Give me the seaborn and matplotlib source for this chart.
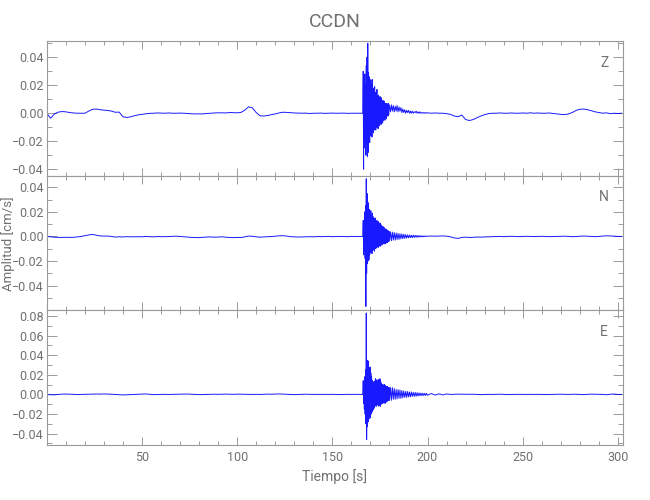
import numpy as np
import pandas as pd
import matplotlib
matplotlib.use('Agg')
import matplotlib.pyplot as plt
from matplotlib.ticker import MultipleLocator
import seaborn as sns

# valores, en unidades de 0.001 cm/s
# tramo previo: 0-164 s cada 2 s
z_previo = [0, -3.6, -0.5, 0.8, 1.2, 1.0, 0.5, 0.2, 0, 0, 0, 1.5, 2.8, 3.0, 2.5, 2.2, 2.0, 1.5, 0.7, 0.8,
            -2.5, -3.0, -2.6, -1.8, -1.2, -0.8, -0.4, -0.1, 0, 0.2, 0.1, 0, 0.2, 0, 0, 0.1, 0, -0.2, -0.4, -0.5,
            -0.4, -0.5, -0.2, 0, 0.2, 0.3, 0.3, 0.2, 0.5, 0.4, 0.3, 0.6, 2.2, 4.6, 3.8, 0.5, -1.8, -2.0, -1.6, -1.0,
            -0.5, 0.2, 0.7, 0.6, 0.4, 0.2, 0.1, 0, 0.1, -0.2, 0, 0, 0.1, -0.1, 0, 0.1, 0, 0, 0.1, -0.1,
            0, 0, 0]
n_previo = [0, -0.3, -0.6, -0.8, -0.8, -0.7, -0.8, -0.7, -0.4, 0, 0.6, 1.2, 1.6, 1.0, 0.4, 0.3, 0.3, 0, -0.5, -0.3,
            -0.4, -0.2, -0.3, -0.3, -0.2, -0.3, 0, -0.2, -0.3, -0.1, -0.2, -0.2, -0.1, 0.1, 0.2, 0, -0.3, -0.5, -0.8, -0.9,
            -1.0, -0.7, -0.5, -0.4, -0.6, -0.5, -0.3, -0.6, -0.9, -1.0, -0.8, -0.9, -0.3, 0.3, 0.1, -0.3, -0.6, -0.4, -0.2, -0.1,
            0.2, 0.5, 0.6, 0.3, -0.2, -0.3, -0.5, -0.4, -0.3, -0.2, -0.3, -0.1, -0.2, -0.1, 0, -0.2, -0.1, 0, -0.1, -0.2,
            0, -0.1, 0]
e_previo = [0, -0.3, -0.4, 0, 0.3, 0.4, 0.3, 0.1, -0.1, 0, 0.2, 0.1, 0.3, 0.4, 0.3, 0.5, 0.4, 0.2, 0, -0.2,
            -0.5, -0.4, -0.2, 0, 0.2, 0.3, 0.5, 0.2, -0.2, -0.1, 0, 0.1, 0, 0.1, 0.3, 0.4, 0.3, 0.4, 0.2, 0,
            -0.2, -0.1, 0, 0.1, 0.2, 0.1, 0.2, 0.3, 0.2, 0.1, 0.3, 0.2, 0, -0.1, 0, 0.1, 0, 0.2, 0.3, 0.2,
            0.4, 0.5, 0.3, 0.1, 0, -0.2, 0, 0.1, 0.2, 0.1, 0, 0.1, 0, 0.1, 0, 0.1, 0, -0.1, 0, 0.1,
            0, 0.1, 0]

# sismo: 166.0-179.8 s cada 0.2 s
z_sismo = [0, 30, -40, 22, -20, 28, -25, 20, -30, 34, -22, 40, -31, 50, -28, 29, -19, 26, -21, 22,
           -16, 24, -15, 20, -17, 24, -13, 18, -14, 16, -12, 19, -11, 15, -12, 14, -10, 17, -9, 12,
           -11, 13, -8, 11, -9, 12, -7, 10, -8, 11, -6, 9, -7, 8, -5, 9, -4, 8, -5, 7,
           -3, 7, -4, 7, -2, 6, -2, 7, -1, 6]
n_sismo = [0, 13, -15, 10, -12, 20, -18, 25, -57, 47, -30, 35, -22, 28, -20, 27, -19, 22, -15, 20,
           -13, 21, -12, 17, -14, 19, -11, 16, -10, 15, -12, 14, -9, 15, -10, 12, -9, 13, -8, 11,
           -9, 12, -8, 10, -7, 11, -8, 10, -7, 9, -7, 8, -6, 8, -6, 7, -6, 7, -5, 6,
           -6, 6, -5, 5, -5, 5, -4, 4.5, -4, 4]
e_sismo = [0, 14, -9, 12, -15, 18, -20, 25, -30, 83, -46, 35, -33, 30, -28, 34, -25, 26, -22, 28,
           -24, 22, -20, 18, -18, 14, -16, 13, -15, 12, -14, 13, -12, 16, -11, 14, -12, 15, -10, 13,
           -11, 15, -12, 14, -10, 16, -12, 13, -10, 11, -9, 10, -9, 10, -8, 9, -9, 10, -8, 9,
           -9, 8, -7, 8, -7, 8, -6, 7, -6, 7]

# coda: 180-199.5 s cada 0.5 s
z_coda = [5.5, 1.0, 6.0, 1.5, 5.5, 1.0, 5.0, 1.5, 5.5, 1.0, 4.5, 1.5, 4.0, 0.5, 3.0, 0.5, 2.5, 0, 2.0, 0.5,
          2.0, 0, 1.5, 0, 1.5, 0, 1.0, 0.5, 1.5, 0, 1.0, 0, 1.0, 0, 0.5, 0, 0.5, 0, 0.5, 0]
n_coda = [-3.5, 3.8, -3.5, 3.5, -3.0, 3.2, -3.0, 2.8, -2.5, 2.5, -2.4, 2.2, -2.0, 2.0, -1.8, 1.8, -1.6, 1.5, -1.4, 1.3,
          -1.2, 1.2, -1.0, 1.0, -1.0, 1.0, -0.8, 0.9, -0.7, 0.8, -0.6, 0.7, -0.5, 0.6, -0.4, 0.5, -0.3, 0.4, -0.2, 0.3]
e_coda = [-6, 7, -6, 7, -5, 6, -5, 5, -4.5, 5, -4, 4.5, -4, 4, -3.5, 3.5, -3, 3, -3, 3,
          -2.5, 2.5, -2.5, 2.5, -2, 2, -2, 2, -1.8, 1.8, -1.6, 1.6, -1.4, 1.4, -1.2, 1.2, -1.1, 1.1, -1.0, 1.0]

# tramo final: 200-302 s cada 2 s
z_final = [0.3, 0, 0.2, 0, 0, -0.3, -0.8, -2.0, -2.5, -1.3, -4.5, -5.2, -4.5, -3.2, -2.0, -1.0, -0.3, 0, 0, 0.2,
           0, 0, 0.2, 0, 0, 0.2, 0, 0.3, 0, 0.2, 0, 0, 0.2, -0.2, -0.5, -0.8, -1.0, -0.5, 0.5, 2.0,
           2.8, 3.0, 2.5, 1.8, 1.0, 0.5, 0, 0.3, -0.3, 0, -0.2, 0]
n_final = [0.2, 0.3, 0.2, 0.3, 0.4, 0.2, -0.3, -1.2, -1.6, -0.8, -0.6, -0.8, -0.7, -0.5, -0.6, -0.4, -0.3, -0.2, -0.1, 0,
           -0.2, 0, 0.1, 0, -0.2, 0, 0.1, 0, -0.1, 0, 0.1, 0, -0.2, -0.1, 0, 0.1, 0.2, 0, -0.2, -0.1,
           0.2, 0.3, 0.2, 0, -0.2, 0, 0.3, 0.5, 0.4, 0.2, 0, 0]
e_final = [-0.8, 0.9, -0.7, 0.6, -0.5, 0.5, 0, 0.2, 0.3, 0.2, 0, 0.1, 0.2, 0, -0.2, 0, 0.1, 0, 0.1, 0.2,
           0, -0.1, 0, 0.2, 0.1, 0, 0, 0.1, 0, 0.1, 0, -0.1, 0, 0.2, 0.3, 0.2, 0.1, 0, 0.1, 0.2,
           0, -0.2, 0, 0.3, 0.2, 0.1, 0, -0.3, 0.2, 0.4, 0, 0]

componentes = ['Z', 'N', 'E']
estacion = 'CCDN'

# tiempos de muestreo
tiempo = np.concatenate([
    2.0 * np.arange(83),
    166.0 + 0.2 * np.arange(70),
    180.0 + 0.5 * np.arange(40),
    200.0 + 2.0 * np.arange(52),
])

trazas = {
    'Z': z_previo + z_sismo + z_coda + z_final,
    'N': n_previo + n_sismo + n_coda + n_final,
    'E': e_previo + e_sismo + e_coda + e_final,
}
for c in componentes:
    assert len(trazas[c]) == len(tiempo), (c, len(trazas[c]), len(tiempo))

df = pd.concat([pd.DataFrame({'tiempo': tiempo, 'amplitud': np.array(trazas[c]) * 1e-3, 'comp': c})
                for c in componentes])

sns.set_style('white')
plt.rcParams['font.family'] = ['DejaVu Sans Condensed', 'Liberation Sans Narrow', 'Roboto', 'DejaVu Sans']
gris = '#707070'
plt.rcParams.update({
    'axes.edgecolor': '#9a9a9a', 'axes.linewidth': 0.8,
    'xtick.color': '#9a9a9a', 'ytick.color': '#9a9a9a',
    'xtick.labelcolor': gris, 'ytick.labelcolor': gris,
    'xtick.direction': 'in', 'ytick.direction': 'in',
    'xtick.top': True, 'ytick.right': True,
    'xtick.bottom': True, 'ytick.left': True,
    'xtick.major.size': 6, 'xtick.minor.size': 3,
    'ytick.major.size': 7, 'ytick.minor.size': 3.5,
    'xtick.major.width': 0.7, 'ytick.major.width': 0.7,
    'xtick.minor.width': 0.7, 'ytick.minor.width': 0.7,
    'font.size': 10,
})

fig = plt.figure(figsize=(6.5, 5), dpi=100)
fig.subplots_adjust(left=0.072, right=0.958, top=0.918, bottom=0.11, hspace=0)
axes = fig.subplots(3, 1, sharex=True)

limites = {'Z': (-0.0446, 0.0516), 'N': (-0.0602, 0.0495), 'E': (-0.0516, 0.0858)}
marcas = {'Z': [-0.04, -0.02, 0, 0.02, 0.04],
          'N': [-0.04, -0.02, 0, 0.02, 0.04],
          'E': [-0.04, -0.02, 0, 0.02, 0.04, 0.06, 0.08]}

for ax, c in zip(axes, componentes):
    sns.lineplot(data=df[df.comp == c], x='tiempo', y='amplitud', ax=ax,
                 color='#0000ff', lw=0.7, alpha=0.9, estimator=None, legend=False)
    ax.set_ylim(*limites[c])
    ax.set_yticks(marcas[c])
    ax.set_yticklabels([f'{v:.2f}'.replace('-', '\u2212') for v in marcas[c]])
    ax.yaxis.set_minor_locator(MultipleLocator(0.01))
    ax.set_ylabel('')
    ax.set_xlabel('')
    ax.tick_params(which='both', top=True, right=True, labelsize=9, pad=2)
    ax.text(0.968, 0.84, c, transform=ax.transAxes, ha='center', va='center',
            color=gris, fontsize=10)

axes[-1].set_xlim(0, 302.5)
axes[-1].set_xticks([50, 100, 150, 200, 250, 300])
axes[-1].xaxis.set_minor_locator(MultipleLocator(10))
axes[-1].tick_params(axis='x', pad=4)
axes[-1].set_xlabel('Tiempo [s]', color=gris, fontsize=10)
fig.text(0.012, 0.512, 'Amplitud [cm/s]', rotation=90, ha='center', va='center',
         color=gris, fontsize=9.5)
axes[0].set_title(estacion, color=gris, fontsize=14, pad=10)

fig.savefig('out.png', dpi=100)
